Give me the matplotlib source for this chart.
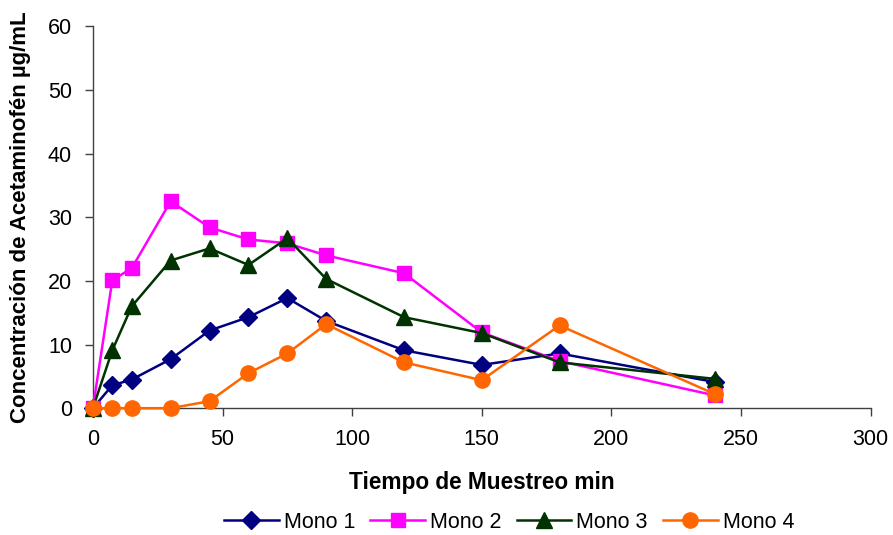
import numpy as np
import matplotlib.pyplot as plt

plt.rcParams['font.family'] = ['Liberation Sans', 'DejaVu Sans']

# Sampling times (min)
tiempo = [0, 7.5, 15, 30, 45, 60, 75, 90, 120, 150, 180, 240]

# Acetaminophen concentration (ug/mL) per monkey
mono1 = [0, 3.6, 4.5, 7.7, 12.2, 14.3, 17.3, 13.7, 9.1, 6.8, 8.6, 4.1]
mono2 = [0, 20.1, 22.0, 32.5, 28.4, 26.5, 25.9, 24.0, 21.2, 11.9, 7.4, 2.0]
mono3 = [0, 9.1, 16.0, 23.2, 25.1, 22.5, 26.7, 20.3, 14.3, 11.8, 7.2, 4.6]
mono4 = [0, 0, 0, 0, 1.1, 5.5, 8.6, 13.2, 7.2, 4.4, 13.0, 2.2]

fig = plt.figure(figsize=(8.93, 5.35), dpi=100)
ax = fig.add_axes([0.104, 0.237, 0.871, 0.714])

ax.plot(tiempo, mono1, color='#000080', marker='D', markersize=9, lw=1.8, label='Mono 1')
ax.plot(tiempo, mono2, color='#FF00FF', marker='s', markersize=10, lw=1.8, label='Mono 2')
ax.plot(tiempo, mono3, color='#003300', marker='^', markersize=11, lw=1.8, label='Mono 3')
ax.plot(tiempo, mono4, color='#FF6600', marker='o', markersize=11, lw=1.8, label='Mono 4')

ax.set_xlim(0, 300)
ax.set_ylim(0, 60)
ax.set_xticks(np.arange(0, 301, 50))
ax.set_yticks(np.arange(0, 61, 10))

for s in ['top', 'right']:
    ax.spines[s].set_visible(False)
for s in ['left', 'bottom']:
    ax.spines[s].set_color('#404040')
    ax.spines[s].set_linewidth(1)
for sp in ax.spines.values():
    sp.set_zorder(0.5)

ax.tick_params(direction='out', length=6, width=1, color='#404040', labelsize=15.5, pad=9)
ax.set_xlabel('Tiempo de Muestreo min', fontsize=16.3, fontweight='bold', labelpad=15)
ax.set_ylabel('Concentración de Acetaminofén µg/mL', fontsize=16, fontweight='bold', labelpad=12)

for line in ax.lines:
    line.set_clip_on(False)

fig.legend(loc='center', bbox_to_anchor=(0.57, 0.024), ncol=4, frameon=False,
           fontsize=15.5, handlelength=2.55, handletextpad=0.23, columnspacing=0.7)

fig.savefig('out.png', dpi=100)
